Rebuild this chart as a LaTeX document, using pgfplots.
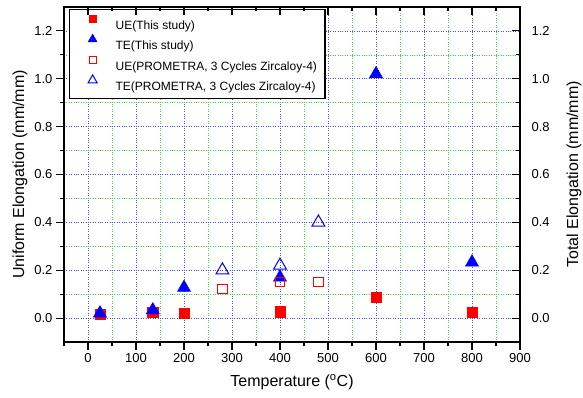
\documentclass[border=0pt]{standalone}
\usepackage{fontspec}
\setmainfont{Liberation Sans}
\usepackage{pgfplots}
\pgfplotsset{compat=1.18}
\definecolor{gridblue}{RGB}{70,70,255}
\definecolor{gridgreen}{RGB}{40,230,40}
\definecolor{mred}{RGB}{255,0,0}
\definecolor{mblue}{RGB}{0,0,255}
\pgfplotsset{
  legimg/.style={legend image code/.code={\path[draw=none,fill=none] (0pt,0pt) (38pt,8pt); \draw[##1, mark size=#1] plot coordinates {(19pt,4.4pt)};}},
  common/.style={
    scale only axis, width=456pt, height=335pt,
    xmin=-50, xmax=900, ymin=-0.1, ymax=1.3,
    xtick={0,100,200,300,400,500,600,700,800,900},
    minor xtick={-50,50,150,250,350,450,550,650,750,850},
    ytick={0,0.2,0.4,0.6,0.8,1.0,1.2},
    minor ytick={0.1,0.3,0.5,0.7,0.9,1.1},
    axis line style={line width=1.4pt},
    tick style={black, line width=1.1pt},
    major tick length=8pt, minor tick length=4pt,
    /pgf/number format/assume math mode=true,
    tick label style={font=\fontsize{13}{15}\selectfont},
    label style={font=\fontsize{16}{18}\selectfont},
    yticklabel style={/pgf/number format/fixed, /pgf/number format/fixed zerofill, /pgf/number format/precision=1},
  }
}
\begin{document}
\begin{tikzpicture}
\begin{axis}[common, name=ax,
  xtick pos=left, ytick pos=left, tick align=outside,
  grid=both,
  major grid style={gridblue, dotted, line width=0.7pt},
  minor grid style={gridgreen, dotted, line width=0.7pt},
  xlabel={Temperature (\textsuperscript{o}C)},
  xlabel style={yshift=-5pt},
  ylabel={Uniform Elongation (mm/mm)},
  legend style={at={(0.011,0.994)}, anchor=north west, draw=black, line width=1.2pt,
    font=\fontsize{12}{14}\selectfont, inner xsep=4pt, inner ysep=3.55pt,
    row sep=0pt, column sep=0pt,
    nodes={inner xsep=4pt, inner ysep=4pt, text height=12.25pt, text depth=0.15pt}},
  legend cell align=left,
]
\addplot[only marks, mark=square*, mark size=5.2pt, color=mred, mark options={fill=mred, draw=mred, line width=0.5pt}, legimg=3.7pt]
  coordinates {(25,0.017) (135,0.024) (200,0.02) (400,0.026) (600,0.088) (800,0.025)};
\addlegendentry{UE(This study)}
\addplot[only marks, mark=triangle*, mark size=7.6pt, color=mblue, mark options={fill=mblue, draw=mblue, line width=0.5pt}, legimg=5.2pt]
  coordinates {(25,0.02) (135,0.033) (200,0.127) (400,0.17) (600,1.02) (800,0.233)};
\addlegendentry{TE(This study)}
\addplot[only marks, mark=square, mark size=4.8pt, color=mred, mark options={draw=mred, line width=0.9pt}, legimg=3.6pt]
  coordinates {(280,0.122) (400,0.151) (480,0.151)};
\addlegendentry{UE(PROMETRA, 3 Cycles Zircaloy-4)}
\addplot[only marks, mark=triangle, mark size=7.4pt, color=mblue, mark options={draw=mblue, line width=1.0pt}, legimg=5.2pt]
  coordinates {(280,0.20) (400,0.22) (480,0.40)};
\addlegendentry{TE(PROMETRA, 3 Cycles Zircaloy-4)}
\end{axis}
\begin{axis}[common,
  xtick pos=right, ytick pos=right, yticklabel pos=right, tick align=inside,
  xticklabels={},
  yticklabel style={xshift=8pt},
  ylabel={Total Elongation (mm/mm)},
  ylabel shift=10pt,
]
\end{axis}
\pgfresetboundingbox
\path[use as bounding box] ([shift={(-64pt,-55pt)}]ax.south west) rectangle ([shift={(63pt,7pt)}]ax.north east);
\end{tikzpicture}
\end{document}
